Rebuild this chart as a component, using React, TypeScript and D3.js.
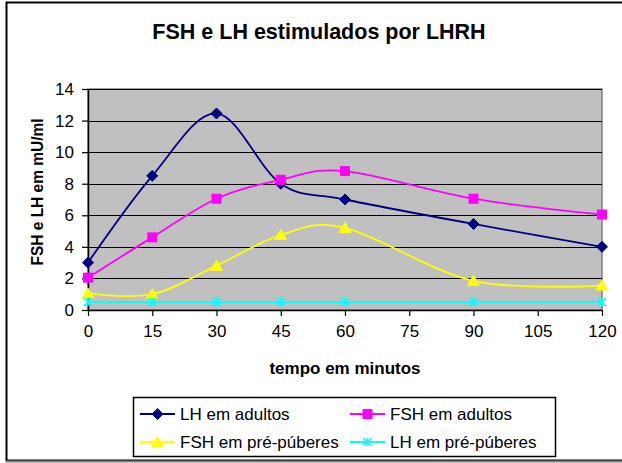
import React, { useEffect, useRef } from 'react';
import * as d3 from 'd3';

const minutes = [0, 15, 30, 45, 60, 90, 120];
const xTicks = [0, 15, 30, 45, 60, 75, 90, 105, 120];
const yTicks = [0, 2, 4, 6, 8, 10, 12, 14];

const lhAdultos = [3.0, 8.5, 12.45, 8.0, 7.0, 5.45, 4.0];
const fshAdultos = [2.05, 4.6, 7.05, 8.25, 8.8, 7.05, 6.05];
const fshPre = [1.05, 1.0, 2.8, 4.75, 5.2, 1.85, 1.55];
const lhPre = [0.5, 0.5, 0.5, 0.5, 0.5, 0.5, 0.5];

const seriesNames = ['LH em adultos', 'FSH em adultos', 'FSH em pré-púberes', 'LH em pré-púberes'];
const seriesColors = ['#000080', '#FF00FF', '#FFFF00', '#00FFFF'];
const seriesMarkers = ['diamond', 'square', 'triangle', 'x'];

const App: React.FC = () => {
  const svgRef = useRef<SVGSVGElement>(null);

  useEffect(() => {
    if (!svgRef.current) return;
    const width = 622;
    const plot = { left: 88, right: 602, top: 89, bottom: 310 };
    const font = 'Liberation Sans, Arial, sans-serif';

    const svg = d3.select(svgRef.current);
    svg.selectAll('*').remove();

    // outer chart border (right edge falls outside the picture)
    svg.append('rect')
      .attr('x', 6.5).attr('y', 2.5)
      .attr('width', width).attr('height', 458)
      .attr('fill', 'white')
      .attr('stroke', 'black')
      .attr('stroke-width', 2);
    svg.append('line')
      .attr('x1', 6).attr('x2', width).attr('y1', 461.5).attr('y2', 461.5)
      .attr('stroke', '#808080').attr('stroke-width', 2);

    const x = d3.scaleLinear().domain([0, 120]).range([plot.left, plot.right]);
    const y = d3.scaleLinear().domain([0, 14]).range([plot.bottom, plot.top]);

    // plot area
    svg.append('rect')
      .attr('x', plot.left).attr('y', plot.top)
      .attr('width', plot.right - plot.left).attr('height', plot.bottom - plot.top)
      .attr('fill', '#C0C0C0')
      .attr('stroke', '#808080')
      .attr('stroke-width', 1.5);

    // gridlines
    svg.append('g')
      .selectAll('line')
      .data(yTicks.filter(t => t > 0))
      .enter()
      .append('line')
      .attr('x1', plot.left).attr('x2', plot.right)
      .attr('y1', d => Math.round(y(d)) + 0.5).attr('y2', d => Math.round(y(d)) + 0.5)
      .attr('stroke', 'black')
      .attr('stroke-width', 1.2);

    // axes
    const yAxis = svg.append('g')
      .attr('transform', `translate(${plot.left},0)`)
      .call(d3.axisLeft(y).tickValues(yTicks).tickSize(6).tickPadding(8).tickSizeOuter(0));
    const xAxis = svg.append('g')
      .attr('transform', `translate(0,${plot.bottom})`)
      .call(d3.axisBottom(x).tickValues(xTicks).tickSize(6).tickPadding(9).tickSizeOuter(0));
    [yAxis, xAxis].forEach(g => {
      g.select('.domain').attr('stroke', 'black').attr('stroke-width', 1.5);
      g.selectAll('.tick line').attr('stroke', 'black').attr('stroke-width', 1.2);
      g.selectAll('.tick text')
        .attr('font-family', font)
        .attr('font-size', 17)
        .attr('fill', 'black');
    });

    // series
    const allSeries = [lhAdultos, fshAdultos, fshPre, lhPre];
    const line = d3.line<number>()
      .x((_, i) => x(minutes[i]))
      .y(d => y(d))
      .curve(d3.curveCatmullRom.alpha(0));

    const drawMarker = (g: any, kind: string, cx: number, cy: number, color: string) => {
      if (kind === 'diamond') {
        g.append('path')
          .attr('d', `M${cx},${cy - 5.5}L${cx + 5.5},${cy}L${cx},${cy + 5.5}L${cx - 5.5},${cy}Z`)
          .attr('fill', color).attr('stroke', color);
      } else if (kind === 'square') {
        g.append('rect')
          .attr('x', cx - 4.5).attr('y', cy - 4.5)
          .attr('width', 9).attr('height', 9)
          .attr('fill', color).attr('stroke', color);
      } else if (kind === 'triangle') {
        g.append('path')
          .attr('d', `M${cx},${cy - 5.5}L${cx + 6},${cy + 4.5}L${cx - 6},${cy + 4.5}Z`)
          .attr('fill', color).attr('stroke', color);
      } else {
        g.append('path')
          .attr('d', `M${cx - 4},${cy - 4}L${cx + 4},${cy + 4}M${cx - 4},${cy + 4}L${cx + 4},${cy - 4}M${cx},${cy - 4}L${cx},${cy + 4}`)
          .attr('fill', 'none').attr('stroke', color).attr('stroke-width', 1.5);
      }
    };

    allSeries.forEach((vals, si) => {
      const g = svg.append('g');
      g.append('path')
        .datum(vals)
        .attr('fill', 'none')
        .attr('stroke', seriesColors[si])
        .attr('stroke-width', 1.8)
        .attr('d', line as any);
      vals.forEach((v, i) => drawMarker(g, seriesMarkers[si], x(minutes[i]), y(v), seriesColors[si]));
    });

    // title
    svg.append('text')
      .attr('x', 319).attr('y', 39)
      .attr('text-anchor', 'middle')
      .attr('font-family', font)
      .attr('font-weight', 'bold')
      .attr('font-size', 21.5)
      .text('FSH e LH estimulados por LHRH');

    // axis titles
    svg.append('text')
      .attr('x', 345).attr('y', 374)
      .attr('text-anchor', 'middle')
      .attr('font-family', font)
      .attr('font-weight', 'bold')
      .attr('font-size', 17)
      .text('tempo em minutos');

    svg.append('text')
      .attr('transform', 'translate(43,192) rotate(-90)')
      .attr('text-anchor', 'middle')
      .attr('font-family', font)
      .attr('font-weight', 'bold')
      .attr('font-size', 17)
      .attr('textLength', 147)
      .attr('lengthAdjust', 'spacingAndGlyphs')
      .text('FSH e LH em mU/ml');

    // legend
    const legend = svg.append('g');
    legend.append('rect')
      .attr('x', 133.5).attr('y', 397.5)
      .attr('width', 422).attr('height', 59)
      .attr('fill', 'white')
      .attr('stroke', 'black')
      .attr('stroke-width', 1.5);
    const legendPos = [
      { x: 140, y: 414 },
      { x: 350, y: 414 },
      { x: 140, y: 442 },
      { x: 350, y: 442 }
    ];
    seriesNames.forEach((name, si) => {
      const p = legendPos[si];
      legend.append('line')
        .attr('x1', p.x).attr('x2', p.x + 35)
        .attr('y1', p.y).attr('y2', p.y)
        .attr('stroke', seriesColors[si])
        .attr('stroke-width', 1.8);
      drawMarker(legend, seriesMarkers[si], p.x + 17.5, p.y, seriesColors[si]);
      legend.append('text')
        .attr('x', p.x + 40).attr('y', p.y + 6)
        .attr('font-family', font)
        .attr('font-size', 17)
        .text(name);
    });
  }, []);

  return (
    <svg
      ref={svgRef}
      width={622}
      height={463}
      style={{ position: 'absolute', left: 0, top: 0 }}
    />
  );
};

export default App;
